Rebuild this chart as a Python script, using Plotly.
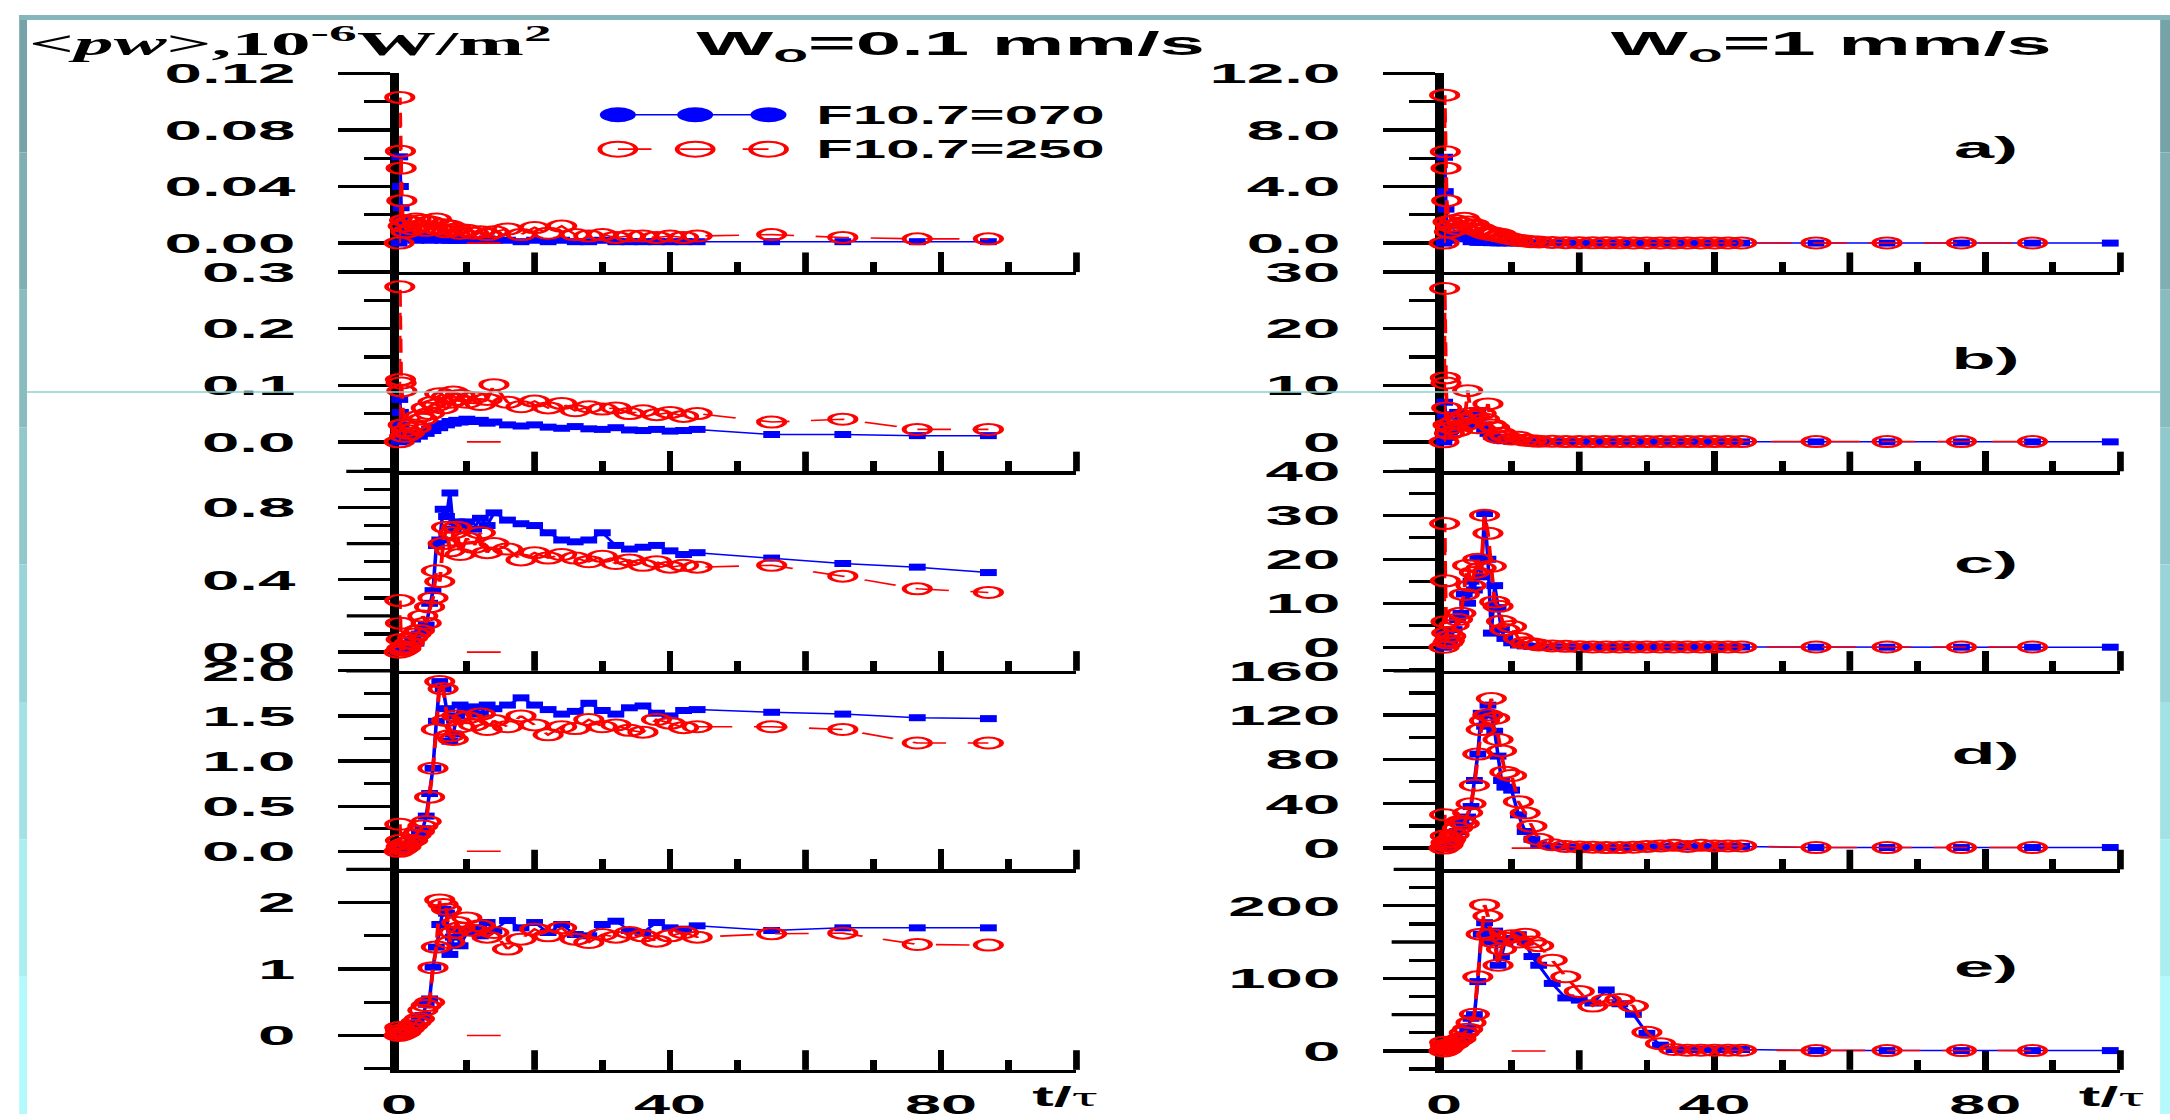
import plotly.graph_objects as go

# ---------------------------------------------------------------- data
# dimensionless time t/tau (shared sampling of all runs)
t_grid = [0, 0.1, 0.2, 0.3, 0.4, 0.6, 0.8, 1.0,
          1.5, 2, 2.5, 3, 3.5, 4, 4.5, 5,
          5.5, 6, 6.5, 7, 7.5, 8, 8.5, 9,
          10, 11, 12, 13, 14, 16, 18, 20,
          22, 24, 26, 28, 30, 32, 34, 36,
          38, 40, 42, 44, 55, 65.5, 76.5, 87]
t_extra_070 = [98.5]          # last sample of the F10.7=070 runs at W0 = 1 mm/s
t_gap = [10, 15]              # short F10.7=250 dash on the zero level
v_gap = [0, 0]

# <pw>, 10^-6 W/m^2 ; W0 = 0.1 mm/s
slow_a_070 = [0.000, 0.061, 0.040, 0.025, 0.016, 0.010, 0.006, 0.004,
              0.003, 0.004, 0.002, 0.005, 0.003, 0.004, 0.002, 0.004,
              0.003, 0.003, 0.002, 0.003, 0.002, 0.003, 0.002, 0.002,
              0.003, 0.002, 0.002, 0.003, 0.002, 0.002, 0.001, 0.002,
              0.001, 0.002, 0.001, 0.001, 0.002, 0.001, 0.001, 0.001,
              0.001, 0.001, 0.001, 0.001, 0.001, 0.001, 0.001, 0.001]
slow_a_250 = [0.000, 0.103, 0.065, 0.053, 0.030, 0.012, 0.016, 0.008,
              0.015, 0.010, 0.017, 0.012, 0.016, 0.009, 0.015, 0.011,
              0.017, 0.010, 0.013, 0.008, 0.012, 0.009, 0.010, 0.007,
              0.009, 0.007, 0.008, 0.006, 0.008, 0.010, 0.006, 0.011,
              0.007, 0.012, 0.006, 0.005, 0.006, 0.004, 0.005, 0.005,
              0.004, 0.005, 0.004, 0.005, 0.006, 0.004, 0.003, 0.003]
slow_b_070 = [0.000, 0.075, 0.052, 0.030, 0.010, 0.003, 0.006, 0.002,
              0.008, 0.005, 0.012, 0.010, 0.018, 0.015, 0.022, 0.020,
              0.028, 0.025, 0.032, 0.030, 0.036, 0.033, 0.038, 0.035,
              0.040, 0.036, 0.038, 0.033, 0.035, 0.030, 0.028, 0.030,
              0.026, 0.024, 0.027, 0.023, 0.022, 0.025, 0.021, 0.020,
              0.022, 0.019, 0.020, 0.022, 0.013, 0.013, 0.011, 0.011]
slow_b_250 = [0.000, 0.274, 0.110, 0.104, 0.090, 0.030, 0.010, 0.020,
              0.015, 0.030, 0.025, 0.045, 0.040, 0.060, 0.050, 0.070,
              0.065, 0.085, 0.060, 0.080, 0.070, 0.088, 0.075, 0.082,
              0.070, 0.078, 0.066, 0.075, 0.101, 0.070, 0.062, 0.072,
              0.060, 0.068, 0.055, 0.062, 0.058, 0.060, 0.050, 0.055,
              0.048, 0.052, 0.045, 0.050, 0.035, 0.040, 0.022, 0.022]
slow_c_070 = [0.00, 0.01, 0.02, 0.01, 0.00, 0.02, 0.03, 0.02,
              0.04, 0.07, 0.05, 0.10, 0.13, 0.15, 0.27, 0.34,
              0.59, 0.62, 0.79, 0.75, 0.88, 0.68, 0.72, 0.70,
              0.72, 0.68, 0.74, 0.70, 0.77, 0.73, 0.71, 0.70,
              0.66, 0.62, 0.61, 0.62, 0.66, 0.59, 0.57, 0.58,
              0.59, 0.56, 0.54, 0.55, 0.52, 0.49, 0.47, 0.44]
slow_c_250 = [0.00, 0.285, 0.16, 0.07, 0.02, 0.01, 0.03, 0.02,
              0.05, 0.08, 0.10, 0.12, 0.20, 0.16, 0.25, 0.30,
              0.45, 0.39, 0.60, 0.69, 0.56, 0.66, 0.69, 0.54,
              0.63, 0.58, 0.66, 0.55, 0.60, 0.57, 0.51, 0.55,
              0.52, 0.54, 0.52, 0.50, 0.53, 0.49, 0.51, 0.48,
              0.50, 0.47, 0.48, 0.47, 0.48, 0.42, 0.35, 0.33]
slow_d_070 = [0.00, 0.02, 0.05, 0.03, 0.01, 0.02, 0.04, 0.03,
              0.06, 0.10, 0.15, 0.20, 0.25, 0.39, 0.64, 0.92,
              1.44, 1.88, 1.80, 1.58, 1.22, 1.30, 1.50, 1.62,
              1.55, 1.60, 1.52, 1.62, 1.58, 1.62, 1.70, 1.62,
              1.57, 1.52, 1.55, 1.64, 1.56, 1.52, 1.59, 1.61,
              1.53, 1.50, 1.56, 1.57, 1.54, 1.52, 1.48, 1.47]
slow_d_250 = [0.00, 0.30, 0.12, 0.05, 0.02, 0.03, 0.08, 0.05,
              0.10, 0.12, 0.18, 0.22, 0.28, 0.33, 0.60, 0.92,
              1.35, 1.88, 1.80, 1.45, 1.28, 1.24, 1.50, 1.38,
              1.48, 1.40, 1.52, 1.35, 1.45, 1.38, 1.50, 1.40,
              1.29, 1.38, 1.36, 1.46, 1.38, 1.40, 1.34, 1.32,
              1.46, 1.42, 1.37, 1.38, 1.38, 1.35, 1.20, 1.20]
slow_e_070 = [0.00, 0.05, 0.08, 0.03, 0.01, 0.02, 0.05, 0.04,
              0.08, 0.12, 0.18, 0.28, 0.30, 0.47, 0.55, 1.03,
              1.33, 1.67, 1.90, 1.84, 1.22, 1.48, 1.60, 1.35,
              1.55, 1.62, 1.50, 1.70, 1.58, 1.73, 1.62, 1.70,
              1.55, 1.67, 1.52, 1.50, 1.67, 1.72, 1.58, 1.55,
              1.70, 1.62, 1.60, 1.65, 1.58, 1.62, 1.62, 1.62]
slow_e_250 = [0.00, 0.12, 0.08, 0.04, 0.02, 0.03, 0.06, 0.05,
              0.10, 0.15, 0.20, 0.25, 0.38, 0.45, 0.50, 1.02,
              1.33, 2.04, 1.97, 1.90, 1.40, 1.55, 1.70, 1.62,
              1.77, 1.58, 1.65, 1.48, 1.55, 1.30, 1.45, 1.60,
              1.50, 1.62, 1.45, 1.40, 1.52, 1.48, 1.55, 1.50,
              1.42, 1.50, 1.55, 1.48, 1.53, 1.54, 1.37, 1.36]

# <pw>, 10^-6 W/m^2 ; W0 = 1 mm/s (F10.7=070 runs carry one more sample)
fast_a_070 = [0.00, 6.07, 3.64, 2.40, 1.20, 0.50, 0.20, 0.30,
              0.60, 0.40, 0.70, 0.50, 0.30, 0.10, 0.20, 0.05,
              0.10, 0.05, 0.08, 0.03, 0.05, 0.02, 0.03, 0.02,
              0.02, 0.01, 0.01, 0.01, 0.01, 0.01, 0.01, 0.00,
              0.00, 0.00, 0.00, 0.00, 0.00, 0.00, 0.00, 0.00,
              0.00, 0.00, 0.00, 0.00, 0.00, 0.00, 0.00, 0.00,
              0.00]
fast_a_250 = [0.00, 10.46, 6.46, 5.30, 3.00, 1.50, 0.80, 1.20,
              1.60, 1.00, 1.40, 1.75, 1.50, 1.20, 1.30, 0.90,
              1.00, 0.70, 0.80, 0.60, 0.70, 0.50, 0.60, 0.40,
              0.30, 0.20, 0.15, 0.10, 0.08, 0.05, 0.03, 0.03,
              0.02, 0.02, 0.02, 0.01, 0.01, 0.01, 0.01, 0.01,
              0.01, 0.01, 0.01, 0.01, 0.01, 0.01, 0.01, 0.01]
fast_b_070 = [0.0, 7.0, 4.7, 3.0, 1.5, 0.8, 1.0, 2.0,
              3.0, 5.2, 3.5, 2.5, 3.0, 4.9, 3.5, 5.5,
              3.0, 2.0, 1.5, 1.0, 0.8, 0.5, 0.3, 0.2,
              0.1, 0.05, 0.05, 0.0, 0.0, 0.0, 0.0, 0.0,
              0.0, 0.0, 0.0, 0.0, 0.0, 0.0, 0.0, 0.0,
              0.0, 0.0, 0.0, 0.0, 0.0, 0.0, 0.0, 0.0,
              0.0]
fast_b_250 = [0.0, 27.1, 11.3, 10.4, 6.0, 3.0, 1.5, 2.5,
              3.5, 2.0, 4.0, 3.0, 9.05, 5.0, 4.5, 2.5,
              5.0, 4.0, 6.7, 3.0, 2.5, 0.8, 1.5, 1.0,
              0.5, 0.8, 0.3, 0.2, 0.1, 0.1, 0.05, 0.05,
              0.05, 0.05, 0.05, 0.05, 0.05, 0.05, 0.05, 0.05,
              0.05, 0.05, 0.05, 0.05, 0.05, 0.05, 0.05, 0.05]
fast_c_070 = [0.0, 3.0, 2.0, 1.0, 0.5, 1.0, 1.5, 2.0,
              4.0, 6.3, 7.7, 12.1, 10.0, 15.0, 13.0, 20.3,
              16.0, 30.4, 20.0, 3.2, 14.0, 9.0, 4.0, 2.0,
              1.0, 0.5, 0.3, 0.2, 0.1, 0.05, 0.05, 0.05,
              0.05, 0.05, 0.05, 0.05, 0.05, 0.05, 0.05, 0.05,
              0.05, 0.05, 0.05, 0.05, 0.0, 0.0, 0.0, 0.0,
              0.0]
fast_c_250 = [0.0, 28.1, 15.1, 5.8, 3.2, 1.0, 1.5, 2.5,
              5.0, 6.3, 7.7, 12.0, 18.6, 14.0, 17.0, 20.0,
              18.0, 30.0, 25.9, 18.4, 10.3, 9.3, 5.9, 4.0,
              4.7, 2.0, 1.0, 0.8, 0.5, 0.3, 0.2, 0.1,
              0.05, 0.05, 0.05, 0.05, 0.05, 0.05, 0.05, 0.05,
              0.05, 0.05, 0.05, 0.05, 0.05, 0.05, 0.05, 0.05]
fast_d_070 = [0.0, 5.3, 3.0, 2.0, 1.0, 2.0, 4.0, 5.0,
              8.0, 15.0, 24.2, 20.0, 28.0, 37.5, 61.0, 84.8,
              121.6, 110.0, 129.0, 120.0, 105.4, 83.0, 61.0, 55.0,
              52.3, 30.0, 15.0, 8.0, 3.0, 1.5, 1.0, 0.5,
              0.5, 0.5, 0.5, 0.5, 1.0, 1.0, 1.5, 1.0,
              1.5, 1.0, 1.5, 1.5, 0.5, 0.5, 0.5, 0.5,
              0.5]
fast_d_250 = [0.0, 30.1, 10.9, 5.0, 2.0, 3.0, 6.0, 8.0,
              12.0, 18.0, 24.2, 22.0, 31.9, 40.0, 56.7, 84.8,
              106.9, 115.0, 120.0, 134.9, 117.2, 98.0, 87.7, 68.5,
              65.5, 41.9, 31.6, 19.8, 8.0, 3.0, 1.5, 1.0,
              0.8, 0.5, 0.5, 0.8, 1.5, 2.0, 2.5, 1.5,
              2.5, 2.0, 2.0, 2.0, 0.5, 0.5, 0.5, 0.5]
fast_e_070 = [0.0, 8.0, 5.0, 3.0, 2.0, 3.0, 5.0, 6.0,
              8.0, 12.0, 15.0, 22.0, 30.7, 45.0, 50.0, 95.5,
              160.8, 176.6, 163.0, 150.0, 165.0, 118.0, 130.0, 150.0,
              155.0, 160.0, 150.0, 130.0, 118.0, 93.0, 73.0, 70.0,
              66.0, 84.0, 65.0, 50.5, 24.3, 8.0, 2.0, 2.0,
              2.0, 2.0, 2.0, 2.0, 0.5, 0.5, 0.5, 0.5,
              0.5]
fast_e_250 = [0.0, 12.0, 8.0, 4.0, 2.0, 4.0, 6.0, 8.0,
              10.0, 14.0, 16.7, 25.0, 30.0, 39.0, 50.5, 102.0,
              160.8, 201.0, 185.7, 160.0, 150.0, 118.0, 140.0, 155.0,
              158.6, 150.0, 160.8, 150.0, 145.0, 125.0, 102.0, 82.0,
              61.8, 70.0, 70.8, 61.8, 25.7, 10.0, 2.0, 1.0,
              1.0, 1.0, 1.0, 1.0, 0.5, 0.5, 0.5, 0.5]

# time axis: labelled ticks, long unlabelled ticks, short ticks
x_ticks = [0, 40, 80]
x_tick_text = ["0", "40", "80"]
x_long = [20, 60, 100]
x_minor = [10, 30, 50, 70, 90]

# (070 series, 250 series, y range, labelled ticks, tick text, long unlabelled, short ticks)
slow_panels = [
    (slow_a_070, slow_a_250, [-0.0205, 0.12], [0, 0.04, 0.08, 0.12],
     ["0.00", "0.04", "0.08", "0.12"], [], [0.02, 0.06, 0.10]),
    (slow_b_070, slow_b_250, [-0.052, 0.3], [0, 0.1, 0.2, 0.3],
     ["0.0", "0.1", "0.2", "0.3"], [], [-0.05, 0.05, 0.15, 0.25]),
    (slow_c_070, slow_c_250, [-0.103, 1.0], [0, 0.4, 0.8],
     ["0.0", "0.4", "0.8"], [0.2, 0.6], [-0.1, 0.1, 0.3, 0.5, 0.7, 0.9]),
    (slow_d_070, slow_d_250, [-0.2, 2.0], [0, 0.5, 1.0, 1.5, 2.0],
     ["0.0", "0.5", "1.0", "1.5", "2.0"], [], [0.25, 0.75, 1.25, 1.75]),
    (slow_e_070, slow_e_250, [-0.517, 2.5], [0, 1, 2],
     ["0", "1", "2"], [], [-0.5, 0.5, 1.5]),
]
fast_panels = [
    (fast_a_070, fast_a_250, [-2.05, 12], [0, 4, 8, 12],
     ["0.0", "4.0", "8.0", "12.0"], [], [2, 6, 10]),
    (fast_b_070, fast_b_250, [-5.2, 30], [0, 10, 20, 30],
     ["0", "10", "20", "30"], [], [-5, 5, 15, 25]),
    (fast_c_070, fast_c_250, [-5.36, 40], [0, 10, 20, 30, 40],
     ["0", "10", "20", "30", "40"], [], [-5, 5, 15, 25, 35]),
    (fast_d_070, fast_d_250, [-19.2, 160], [0, 40, 80, 120, 160],
     ["0", "40", "80", "120", "160"], [], [20, 60, 100, 140]),
    (fast_e_070, fast_e_250, [-26, 250], [0, 100, 200],
     ["0", "100", "200"], [50, 150], [-25, 25, 75, 125, 175, 225]),
]
panel_letters = ["a)", "b)", "c)", "d)", "e)"]

# ---------------------------------------------------------------- geometry
W_FULL, H = 2170, 1120
W_PLOT = 904                      # drawn narrow, then widened horizontally
STRETCH = W_FULL / W_PLOT

BLUE, RED = "#0000ff", "#ff0000"
SANS = "Liberation Sans, Arial, sans-serif"
SERIF = "Liberation Serif, Times New Roman, serif"

Y_TICKLEN, Y_MINORLEN = 22, 11      # in unstretched px (x 2.4 on screen)
X_TICKLEN, X_MINORLEN = 20, 10


def fx(px):
    return px / W_FULL


def fy(px):
    return 1 - px / H


row_edges = [59.5, 262, 465, 668.3, 870.7, 1075]
col_span = [(383.3, 1066.7), (1437.5, 2120.0)]
ext_start = [330, 1386.7]
letter_y = [135, 350, 558, 753, 970]

fig = go.Figure()
layout = {}
shapes = []
annotations = []

tick_font = dict(family=SANS, size=28, color="black", weight="bold")

for col, panels in enumerate([slow_panels, fast_panels]):
    for row, (v070, v250, yr, yt, ytxt, ylong, ymin) in enumerate(panels):
        n = col * 5 + row + 1
        xname, yname = ("x", "y") if n == 1 else (f"x{n}", f"y{n}")
        xkey, ykey = ("xaxis", "yaxis") if n == 1 else (f"xaxis{n}", f"yaxis{n}")
        x0, x1 = col_span[col]
        top_px, bot_px = row_edges[row], row_edges[row + 1]
        layout[xkey] = dict(
            domain=[fx(x0), fx(x1)], range=[0, 100], anchor=yname,
            showline=True, linewidth=3.3, linecolor="black",
            ticks="inside", ticklen=X_TICKLEN, tickwidth=2.8, tickcolor="black",
            tickmode="array", tickvals=x_ticks, ticktext=x_tick_text,
            minor=dict(tickmode="array", tickvals=x_minor, ticks="inside",
                       ticklen=X_MINORLEN, tickwidth=2.8, tickcolor="black"),
            showticklabels=(row == 4),
            tickfont=dict(family=SANS, size=27, color="black", weight="bold"),
            ticklabelstandoff=8,
            showgrid=False, zeroline=False, layer="below traces", fixedrange=True)
        layout[ykey] = dict(
            domain=[fy(bot_px), fy(top_px)], range=yr,
            anchor=xname, showline=True, linewidth=3.6, linecolor="black",
            ticks="outside", ticklen=Y_TICKLEN, tickwidth=3.3, tickcolor="black",
            tickmode="array", tickvals=yt, ticktext=ytxt,
            minor=dict(tickmode="array", tickvals=ymin, ticks="outside",
                       ticklen=Y_MINORLEN, tickwidth=3.3, tickcolor="black"),
            tickfont=tick_font, ticklabelstandoff=12,
            showgrid=False, zeroline=False, layer="below traces", fixedrange=True)

        # long ticks that carry no label, placed through the axis mapping
        for v in x_long:
            xp = fx(x0 + (x1 - x0) * v / 100.0)
            shapes.append(dict(type="line", xref="paper", yref="paper",
                               x0=xp, x1=xp, y0=fy(bot_px), y1=fy(bot_px - X_TICKLEN),
                               line=dict(color="black", width=2.8)))
        for v in ylong:
            yp = fy(bot_px - (bot_px - top_px) * (v - yr[0]) / (yr[1] - yr[0]))
            shapes.append(dict(type="line", xref="paper", yref="paper",
                               x0=fx(x0) - Y_TICKLEN / W_PLOT, x1=fx(x0), y0=yp, y1=yp,
                               line=dict(color="black", width=3.3)))

        t070 = t_grid + t_extra_070 if col == 1 else t_grid
        fig.add_trace(go.Scatter(
            x=t070, y=v070, xaxis=xname, yaxis=yname, mode="lines+markers",
            line=dict(color=BLUE, width=1.5),
            marker=dict(symbol="square", size=7, color=BLUE),
            cliponaxis=False, showlegend=False, hoverinfo="skip"))
        fig.add_trace(go.Scatter(
            x=t_gap, y=v_gap, xaxis=xname, yaxis=yname, mode="lines",
            line=dict(color=RED, width=1.6), showlegend=False, hoverinfo="skip"))
        fig.add_trace(go.Scatter(
            x=t_grid, y=v250, xaxis=xname, yaxis=yname, mode="lines+markers",
            line=dict(color=RED, width=1.6, dash="14px,9px"),
            marker=dict(symbol="circle-open", size=11, color=RED,
                        line=dict(color=RED, width=2)),
            cliponaxis=False, showlegend=False, hoverinfo="skip"))

        # bottom frame line continues a little to the left of the y axis
        if row < 4:
            shapes.append(dict(type="line", xref="paper", yref="paper",
                               x0=fx(ext_start[col]), x1=fx(x0),
                               y0=fy(bot_px), y1=fy(bot_px),
                               line=dict(color="black", width=3.3)))
        if col == 1:
            annotations.append(dict(text=panel_letters[row], x=fx(1984), y=fy(letter_y[row]),
                                    xref="paper", yref="paper", showarrow=False,
                                    xanchor="center", yanchor="middle",
                                    font=dict(family=SANS, size=30, color="black",
                                              weight="bold")))

# overlay axes in page pixels for the key
layout["xaxis11"] = dict(domain=[0, 1], range=[0, W_FULL], anchor="y11", visible=False,
                         fixedrange=True)
layout["yaxis11"] = dict(domain=[0, 1], range=[H, 0], anchor="x11", visible=False,
                         fixedrange=True)
key_x = [604, 682, 756]
fig.add_trace(go.Scatter(
    x=key_x, y=[101.7, 101.7, 101.7], xaxis="x11", yaxis="y11", mode="lines+markers",
    line=dict(color=BLUE, width=1.5), marker=dict(symbol="circle", size=15, color=BLUE),
    showlegend=False, hoverinfo="skip", cliponaxis=False))
fig.add_trace(go.Scatter(
    x=key_x, y=[136.7, 136.7, 136.7], xaxis="x11", yaxis="y11", mode="lines+markers",
    line=dict(color=RED, width=1.6, dash="14px,12px"),
    marker=dict(symbol="circle-open", size=15, color=RED, line=dict(color=RED, width=2)),
    showlegend=False, hoverinfo="skip", cliponaxis=False))

for label, ky in [("F10.7=070", 101.7), ("F10.7=250", 136.7)]:
    annotations.append(dict(text=label, x=fx(800), y=fy(ky), xref="paper", yref="paper",
                            showarrow=False, xanchor="left", yanchor="middle",
                            font=dict(family=SANS, size=25, color="black", weight="bold")))

# titles
annotations.append(dict(text="&lt;<i>pw</i>&gt;,10<sup>-6</sup>W/m<sup>2</sup>",
                        x=fx(5), y=fy(27), xref="paper", yref="paper", showarrow=False,
                        xanchor="left", yanchor="middle",
                        font=dict(family=SERIF, size=33, color="black", weight="bold")))
for txt, tx in [("W<sub>o</sub>=0.1 mm/s", 678), ("W<sub>o</sub>=1 mm/s", 1602)]:
    annotations.append(dict(text=txt, x=fx(tx), y=fy(31), xref="paper", yref="paper",
                            showarrow=False, xanchor="left", yanchor="middle",
                            font=dict(family=SANS, size=34, color="black", weight="bold")))
for tx in [1017, 2073]:
    annotations.append(dict(text="t/<span style='font-family:Liberation Serif;font-weight:normal'>τ</span>",
                            x=fx(tx), y=fy(1103), xref="paper", yref="paper",
                            showarrow=False, xanchor="left", yanchor="middle",
                            font=dict(family=SANS, size=27, color="black", weight="bold")))

# slide frame: shaded border strips around a white page
n_band = 8
top_rgb, bot_rgb = (118, 163, 167), (180, 250, 252)
for k in range(n_band):
    f = k / (n_band - 1)
    c = tuple(round(top_rgb[i] + (bot_rgb[i] - top_rgb[i]) * f) for i in range(3))
    col_str = "rgb(%d,%d,%d)" % c
    y_top, y_bot = 1 - k / n_band, 1 - (k + 1) / n_band
    shapes.append(dict(type="rect", xref="paper", yref="paper", layer="below",
                       x0=0, x1=fx(8), y0=y_bot, y1=y_top, line=dict(width=0),
                       fillcolor=col_str))
    shapes.append(dict(type="rect", xref="paper", yref="paper", layer="below",
                       x0=fx(2160), x1=1, y0=y_bot, y1=y_top, line=dict(width=0),
                       fillcolor=col_str))
shapes.append(dict(type="rect", xref="paper", yref="paper", layer="below",
                   x0=0, x1=1, y0=fy(5), y1=1, line=dict(width=0),
                   fillcolor="rgb(134,182,186)"))
shapes.append(dict(type="rect", xref="paper", yref="paper", layer="below",
                   x0=fx(8), x1=fx(2160), y0=0, y1=fy(5), line=dict(width=0),
                   fillcolor="white"))
# thin ruled line across the page
shapes.append(dict(type="line", xref="paper", yref="paper", layer="above",
                   x0=fx(8), x1=fx(2160), y0=fy(384.3), y1=fy(384.3),
                   line=dict(color="#8ad2d2", width=1.5)))

fig.update_layout(
    width=W_PLOT, height=H, margin=dict(l=0, r=0, t=0, b=0, pad=0),
    paper_bgcolor="white", plot_bgcolor="rgba(0,0,0,0)",
    showlegend=False, shapes=shapes, annotations=annotations, **layout)

post = (
    "var gd = document.getElementById('{plot_id}');"
    "document.documentElement.style.margin='0';document.body.style.margin='0';"
    "document.documentElement.style.overflow='hidden';document.body.style.overflow='hidden';"
    "gd.style.transformOrigin='0 0';"
    "gd.style.transform='scaleX(" + ("%.5f" % STRETCH) + ")';"
)
fig.write_html("out.html", config={"displayModeBar": False, "staticPlot": True},
               post_script=post)
